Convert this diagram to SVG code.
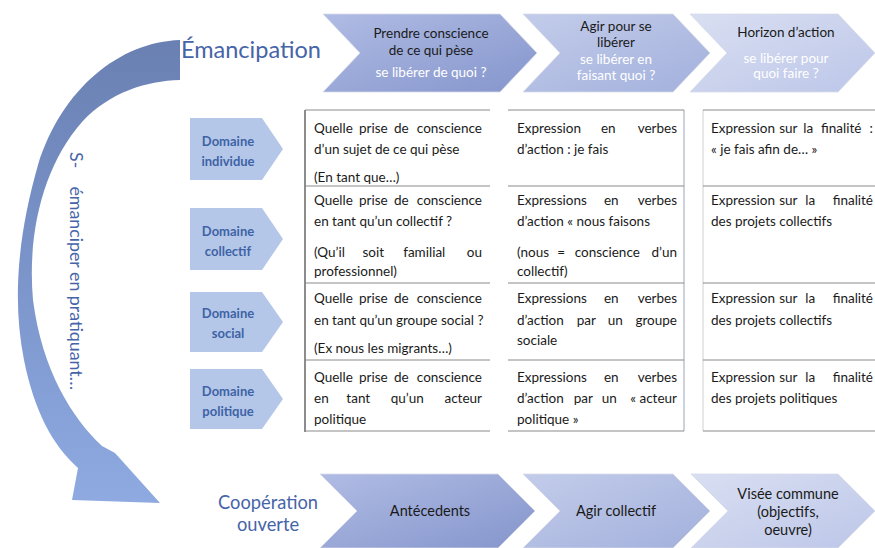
<svg xmlns="http://www.w3.org/2000/svg" width="875" height="548" viewBox="0 0 875 548">
<defs>
<linearGradient id="gArc" x1="0" y1="0" x2="0" y2="1">
<stop offset="0" stop-color="#6a80b2"/><stop offset="0.5" stop-color="#7b95cb"/><stop offset="1" stop-color="#8eaae0"/>
</linearGradient>
<linearGradient id="g1" x1="0" y1="0" x2="1" y2="1">
<stop offset="0" stop-color="#b0bce4"/><stop offset="1" stop-color="#8595cc"/>
</linearGradient>
<linearGradient id="g2" x1="0" y1="0" x2="1" y2="1">
<stop offset="0" stop-color="#c3ccea"/><stop offset="1" stop-color="#a2b0dc"/>
</linearGradient>
<linearGradient id="g3" x1="0" y1="0" x2="1" y2="1">
<stop offset="0" stop-color="#d9dff2"/><stop offset="1" stop-color="#bcc6e8"/>
</linearGradient>
</defs>
<style>
text{font-family:Lato,"Liberation Sans",sans-serif}
.chev{stroke:#d8dce8;stroke-width:0.8}
.ct{font-size:13.5px;fill:#1a1a1a;text-anchor:middle}
.cw{font-size:13.5px;fill:#ffffff;text-anchor:middle}
.bt{font-size:14.5px;fill:#1a1a1a;text-anchor:middle}
.dom{fill:#b5c7e8}
.dt{font-size:13px;font-weight:bold;fill:#3d63a6;text-anchor:middle}
.tt{font-size:13.5px;fill:#1a1a1a}
.m{text-anchor:middle}
.e{text-anchor:end}
.hl{stroke:#8a8a8a;stroke-width:1}
.blue{fill:#4664a8}
</style>

<g id="arc">
<path d="M180,40 C120,42 62,88 38,165 C18,235 12,300 24,360 C34,410 52,445 78,468 L72,500 L160,503 L115,453 L102,446 C72,418 42,370 33,300 C27,232 44,165 82,122 C110,92 146,81 180,80 Z" fill="url(#gArc)"/>
<text class="blue" font-size="17.8" transform="translate(70,152) rotate(90)" xml:space="preserve">S-    émanciper en pratiquant…</text>
</g>

<g id="title-emancipation"><text class="blue" x="181" y="58" font-size="23.5">Émancipation</text></g>

<g id="top-1">
<path class="chev" d="M323,14 L500,14 L537,53 L500,92 L323,92 L360,53 Z" fill="url(#g1)"/>
<text class="ct" x="431" y="38">Prendre conscience</text>
<text class="ct" x="431" y="55">de ce qui pèse</text>
<text class="cw" x="431" y="77">se libérer de quoi ?</text>
</g>
<g id="top-2">
<path class="chev" d="M523,14 L673,14 L710,53 L673,92 L523,92 L560,53 Z" fill="url(#g2)"/>
<text class="ct" x="616" y="31">Agir pour se</text>
<text class="ct" x="616" y="47">libérer</text>
<text class="cw" x="616" y="64">se libérer en</text>
<text class="cw" x="616" y="80">faisant quoi ?</text>
</g>
<g id="top-3">
<path class="chev" d="M690,14 L838,14 L875,53 L838,92 L690,92 L727,53 Z" fill="url(#g3)"/>
<text class="ct" x="786" y="37">Horizon d’action</text>
<text class="cw" x="786" y="63">se libérer pour</text>
<text class="cw" x="786" y="78">quoi faire ?</text>
</g>

<g id="dom-individue">
<path class="dom" d="M190,118 L262,118 L283,149 L262,180 L190,180 Z"/>
<text class="dt" x="228" y="146">Domaine</text><text class="dt" x="228" y="166">individue</text>
</g>
<g id="dom-collectif">
<path class="dom" d="M190,208 L262,208 L283,239 L262,270 L190,270 Z"/>
<text class="dt" x="228" y="236">Domaine</text><text class="dt" x="228" y="256">collectif</text>
</g>
<g id="dom-social">
<path class="dom" d="M190,292 L262,292 L283,322 L262,352 L190,352 Z"/>
<text class="dt" x="228" y="318">Domaine</text><text class="dt" x="228" y="338">social</text>
</g>
<g id="dom-politique">
<path class="dom" d="M190,369 L262,369 L283,399 L262,429 L190,429 Z"/>
<text class="dt" x="228" y="396">Domaine</text><text class="dt" x="228" y="416">politique</text>
</g>

<g id="table-lines">
<line x1="305" y1="110" x2="305" y2="432" stroke="#404040" stroke-width="1.2"/>
<line class="hl" x1="305" y1="110" x2="490" y2="110"/>
<line class="hl" x1="305" y1="186" x2="490" y2="186"/>
<line class="hl" x1="305" y1="283" x2="490" y2="283"/>
<line class="hl" x1="305" y1="360" x2="490" y2="360"/>
<line class="hl" x1="305" y1="431" x2="490" y2="431"/>
<line x1="684" y1="110" x2="684" y2="431" stroke="#9aa3bd" stroke-width="1"/>
<line class="hl" x1="508" y1="110" x2="684" y2="110"/>
<line class="hl" x1="508" y1="186" x2="684" y2="186"/>
<line class="hl" x1="508" y1="283" x2="684" y2="283"/>
<line class="hl" x1="508" y1="360" x2="684" y2="360"/>
<line class="hl" x1="508" y1="431" x2="684" y2="431"/>
<line x1="703" y1="110" x2="703" y2="431" stroke="#d0d0d0" stroke-width="1"/>
<line class="hl" x1="703" y1="110" x2="875" y2="110"/>
<line class="hl" x1="703" y1="186" x2="875" y2="186"/>
<line class="hl" x1="703" y1="283" x2="875" y2="283"/>
<line class="hl" x1="703" y1="360" x2="875" y2="360"/>
<line class="hl" x1="703" y1="431" x2="875" y2="431"/>
</g>

<g id="cell-1-1">
<text class="tt" y="133"><tspan x="314">Quelle</tspan> <tspan class="m" x="375">prise</tspan> <tspan class="m" x="403">de</tspan> <tspan class="e" x="482">conscience</tspan></text>
<text class="tt" x="314" y="154">d’un sujet de ce qui pèse</text>
<text class="tt" x="314" y="182">(En tant que…)</text>
</g>
<g id="cell-2-1">
<text class="tt" y="205"><tspan x="314">Quelle</tspan> <tspan class="m" x="375">prise</tspan> <tspan class="m" x="403">de</tspan> <tspan class="e" x="482">conscience</tspan></text>
<text class="tt" x="314" y="226">en tant qu’un collectif ?</text>
<text class="tt" y="257"><tspan x="314">(Qu’il</tspan> <tspan class="m" x="375">soit</tspan> <tspan class="m" x="426">familial</tspan> <tspan class="e" x="482">ou</tspan></text>
<text class="tt" x="314" y="276">professionnel)</text>
</g>
<g id="cell-3-1">
<text class="tt" y="303"><tspan x="314">Quelle</tspan> <tspan class="m" x="375">prise</tspan> <tspan class="m" x="403">de</tspan> <tspan class="e" x="482">conscience</tspan></text>
<text class="tt" x="314" y="325">en tant qu’un groupe social ?</text>
<text class="tt" x="314" y="353">(Ex nous les migrants…)</text>
</g>
<g id="cell-4-1">
<text class="tt" y="382"><tspan x="314">Quelle</tspan> <tspan class="m" x="375">prise</tspan> <tspan class="m" x="403">de</tspan> <tspan class="e" x="482">conscience</tspan></text>
<text class="tt" y="403"><tspan x="314">en</tspan> <tspan class="m" x="360">tant</tspan> <tspan class="m" x="409">qu’un</tspan> <tspan class="e" x="482">acteur</tspan></text>
<text class="tt" x="314" y="424">politique</text>
</g>

<g id="cell-1-2">
<text class="tt" y="133"><tspan x="517">Expression</tspan> <tspan class="m" x="610">en</tspan> <tspan class="e" x="677">verbes</tspan></text>
<text class="tt" x="517" y="154">d’action : je fais</text>
</g>
<g id="cell-2-2">
<text class="tt" y="205"><tspan x="517">Expressions</tspan> <tspan class="m" x="613">en</tspan> <tspan class="e" x="677">verbes</tspan></text>
<text class="tt" x="517" y="226">d’action « nous faisons</text>
<text class="tt" y="257"><tspan x="517">(nous</tspan> <tspan class="m" x="563">=</tspan> <tspan class="m" x="609">conscience</tspan> <tspan class="e" x="677">d’un</tspan></text>
<text class="tt" x="517" y="276">collectif)</text>
</g>
<g id="cell-3-2">
<text class="tt" y="303"><tspan x="517">Expressions</tspan> <tspan class="m" x="613">en</tspan> <tspan class="e" x="677">verbes</tspan></text>
<text class="tt" y="325"><tspan x="517">d’action</tspan> <tspan class="m" x="588">par</tspan> <tspan class="m" x="617">un</tspan> <tspan class="e" x="677">groupe</tspan></text>
<text class="tt" x="517" y="345">sociale</text>
</g>
<g id="cell-4-2">
<text class="tt" y="382"><tspan x="517">Expressions</tspan> <tspan class="m" x="613">en</tspan> <tspan class="e" x="677">verbes</tspan></text>
<text class="tt" y="403"><tspan x="517">d’action</tspan> <tspan class="m" x="585">par</tspan> <tspan class="m" x="611">un</tspan> <tspan class="e" x="677">« acteur</tspan></text>
<text class="tt" x="517" y="424">politique »</text>
</g>

<g id="cell-1-3">
<text class="tt" y="133"><tspan x="711">Expression</tspan> <tspan class="m" x="790">sur</tspan> <tspan class="m" x="810">la</tspan> <tspan class="m" x="843">finalité</tspan> <tspan class="e" x="873">:</tspan></text>
<text class="tt" x="711" y="154">« je fais afin de… »</text>
</g>
<g id="cell-2-3">
<text class="tt" y="205"><tspan x="711">Expression</tspan> <tspan class="m" x="790">sur</tspan> <tspan class="m" x="812">la</tspan> <tspan class="e" x="873">finalité</tspan></text>
<text class="tt" x="711" y="226">des projets collectifs</text>
</g>
<g id="cell-3-3">
<text class="tt" y="303"><tspan x="711">Expression</tspan> <tspan class="m" x="790">sur</tspan> <tspan class="m" x="812">la</tspan> <tspan class="e" x="873">finalité</tspan></text>
<text class="tt" x="711" y="325">des projets collectifs</text>
</g>
<g id="cell-4-3">
<text class="tt" y="382"><tspan x="711">Expression</tspan> <tspan class="m" x="790">sur</tspan> <tspan class="m" x="812">la</tspan> <tspan class="e" x="873">finalité</tspan></text>
<text class="tt" x="711" y="403">des projets politiques</text>
</g>

<g id="title-cooperation">
<text class="blue" x="268" y="509" font-size="18.3" text-anchor="middle">Coopération</text>
<text class="blue" x="268" y="531" font-size="18.3" text-anchor="middle">ouverte</text>
</g>

<g id="bottom-1">
<path class="chev" d="M320,474 L498,474 L535,511 L498,548 L320,548 L357,511 Z" fill="url(#g1)"/>
<text class="bt" x="430" y="516">Antécedents</text>
</g>
<g id="bottom-2">
<path class="chev" d="M523,474 L673,474 L710,511 L673,548 L523,548 L560,511 Z" fill="url(#g2)"/>
<text class="bt" x="616" y="516">Agir collectif</text>
</g>
<g id="bottom-3">
<path class="chev" d="M691,474 L838,474 L875,511 L838,548 L691,548 L728,511 Z" fill="url(#g3)"/>
<text class="bt" x="788" y="499">Visée commune</text>
<text class="bt" x="788" y="517">(objectifs,</text>
<text class="bt" x="788" y="535">oeuvre)</text>
</g>
</svg>
